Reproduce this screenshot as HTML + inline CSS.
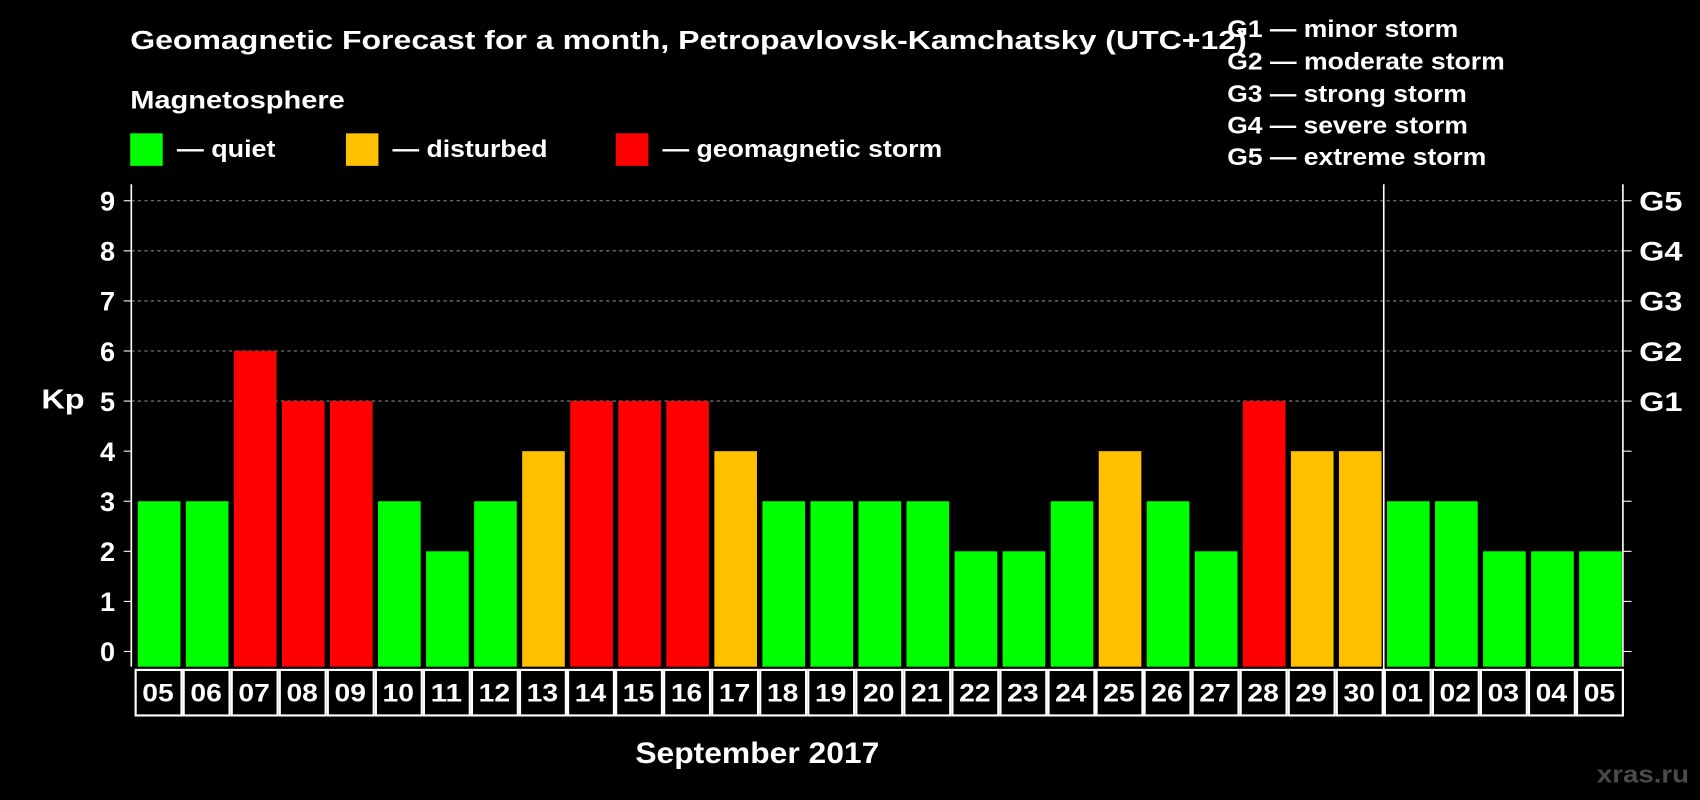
<!DOCTYPE html>
<html><head><meta charset="utf-8"><style>
html,body{margin:0;padding:0;background:#000;width:1700px;height:800px;overflow:hidden}
svg{display:block}
text{font-family:"Liberation Sans",Arial,sans-serif;font-weight:bold;fill:#fff}
</style></head><body>
<svg id="chart" width="1700" height="800" viewBox="0 0 1568 738" xmlns="http://www.w3.org/2000/svg">
<rect width="1568" height="738" fill="#000"/>
<text x="120" y="45" font-size="24" textLength="1030" lengthAdjust="spacingAndGlyphs">Geomagnetic Forecast for a month, Petropavlovsk-Kamchatsky (UTC+12)</text>
<text x="120" y="100" font-size="23" textLength="198" lengthAdjust="spacingAndGlyphs">Magnetosphere</text>
<g>
<rect x="120" y="123" width="30" height="30" fill="#00ff00"/>
<text x="163" y="145" font-size="22" textLength="91" lengthAdjust="spacingAndGlyphs">— quiet</text>
<rect x="319" y="123" width="30" height="30" fill="#ffc000"/>
<text x="362" y="145" font-size="22" textLength="143" lengthAdjust="spacingAndGlyphs">— disturbed</text>
<rect x="568" y="123" width="30" height="30" fill="#ff0000"/>
<text x="611" y="145" font-size="22" textLength="258" lengthAdjust="spacingAndGlyphs">— geomagnetic storm</text>
</g>
<g font-size="22">
<text x="1132" y="34" textLength="213" lengthAdjust="spacingAndGlyphs">G1 — minor storm</text>
<text x="1132" y="64" textLength="256" lengthAdjust="spacingAndGlyphs">G2 — moderate storm</text>
<text x="1132" y="94" textLength="221" lengthAdjust="spacingAndGlyphs">G3 — strong storm</text>
<text x="1132" y="123" textLength="222" lengthAdjust="spacingAndGlyphs">G4 — severe storm</text>
<text x="1132" y="152" textLength="239" lengthAdjust="spacingAndGlyphs">G5 — extreme storm</text>
</g>
<text x="38" y="377" font-size="26" textLength="40" lengthAdjust="spacingAndGlyphs">Kp</text>
<text x="586" y="704" font-size="27" textLength="225" lengthAdjust="spacingAndGlyphs">September 2017</text>
<text x="1473" y="722" font-size="22" textLength="85" lengthAdjust="spacingAndGlyphs" style="fill:#4a4a4a">xras.ru</text>
<g id="plot"></g>
</svg>
<script>
const days = ["05","06","07","08","09","10","11","12","13","14","15","16","17","18","19","20","21","22","23","24","25","26","27","28","29","30","01","02","03","04","05"];
const kp = [3,3,6,5,5,3,2,3,4,5,5,5,4,3,3,3,3,2,2,3,4,3,2,5,4,4,3,3,2,2,2];
const gLabels = ["G1","G2","G3","G4","G5"];
const yTicks = [0,1,2,3,4,5,6,7,8,9];
const monthBreakIndex = 26;

const NS="http://www.w3.org/2000/svg";
const plot=document.getElementById('plot');
const X0=123, PITCH=(1497-123)/days.length, Y0=601, UNIT=46.2;
const xs=i=>X0+i*PITCH;
const ys=v=>Y0-v*UNIT;
function mk(tag,attrs){const e=document.createElementNS(NS,tag);for(const k in attrs)e.setAttribute(k,attrs[k]);plot.appendChild(e);return e;}

gLabels.forEach((g,i)=>{
  const v=5+i;
  const l=mk('line',{x1:121,x2:1497,y1:ys(v),y2:ys(v),stroke:'#888','stroke-dasharray':'3,3','stroke-width':1});
  
  
  const t=mk('text',{x:1512,y:ys(v)+9,'font-size':25,textLength:40,lengthAdjust:'spacingAndGlyphs'});
  t.textContent=g;
  
  
});
yTicks.forEach(v=>{
  const t=mk('text',{x:106,y:ys(v)+9,'font-size':25,'text-anchor':'end'});
  t.textContent=v;
  
  
  const a=mk('line',{x1:114,x2:121,y1:ys(v),y2:ys(v),stroke:'#fff'});
  
  
  const b=mk('line',{x1:1497,x2:1505,y1:ys(v),y2:ys(v),stroke:'#fff'});
  
  
});
kp.forEach((v,i)=>{
  const col=v>=5?'#ff0000':(v>=4?'#ffc000':'#00ff00');
  const r=mk('rect',{x:xs(i)+4,y:ys(v),width:PITCH-5,height:ys(0)-ys(v)+14,fill:col});
  
  
  const c=mk('rect',{x:xs(i)+2,y:618,width:PITCH-2,height:42,fill:'#000',stroke:'#fff','stroke-width':2});
  
  
  const t=mk('text',{x:xs(i)+PITCH/2-14,y:647,'font-size':23,textLength:29,lengthAdjust:'spacingAndGlyphs'});
  t.textContent=days[i];
  
  
});
const la=mk('line',{x1:121,x2:121,y1:170,y2:615,stroke:'#fff','stroke-width':1.5});


const ra=mk('line',{x1:1497,x2:1497,y1:170,y2:615,stroke:'#fff','stroke-width':1.5});


const ml=mk('line',{x1:xs(monthBreakIndex)+1,x2:xs(monthBreakIndex)+1,y1:170,y2:660,stroke:'#fff','stroke-width':1.5});


</script>
</body></html>
